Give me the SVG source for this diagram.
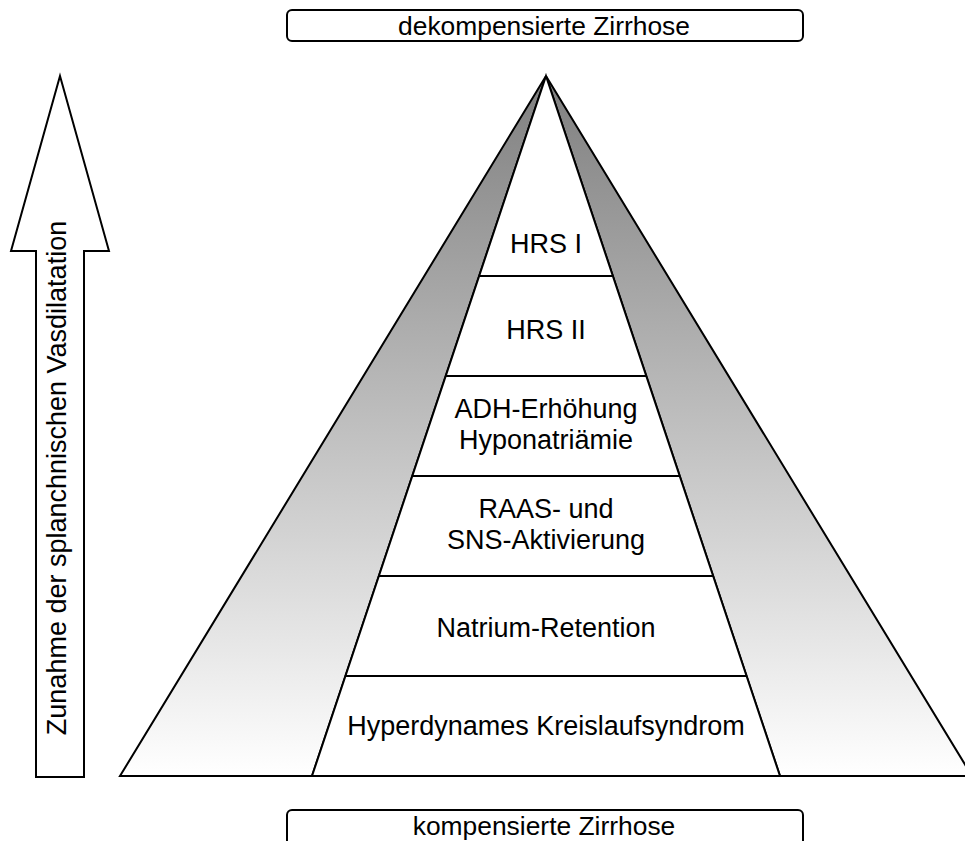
<svg xmlns="http://www.w3.org/2000/svg" width="965" height="841" viewBox="0 0 965 841">
  <defs>
    <linearGradient id="grad" gradientUnits="userSpaceOnUse" x1="0" y1="76" x2="0" y2="776">
      <stop offset="0" stop-color="#7f7f7f"/>
      <stop offset="1" stop-color="#ffffff"/>
    </linearGradient>
  </defs>
  <style>
    .ln { stroke: #000; stroke-width: 2; stroke-linejoin: miter; }
    .t { font-family: "Liberation Sans", Arial, sans-serif; font-size: 27px; fill: #000; text-anchor: middle; }
    .b { font-size: 26.4px; }
  </style>
  <rect x="0" y="0" width="965" height="841" fill="#fff"/>

  <g id="side-strips">
    <polygon class="ln" points="546,76 120,776 312,776" fill="url(#grad)"/>
    <polygon class="ln" points="546,76 972,776 780,776" fill="url(#grad)"/>
  </g>

  <g id="pyramid-core">
    <polygon class="ln" points="546,76 780,776 312,776" fill="#fff"/>
  </g>

  <g id="layer-hrs1">
    <text class="t" x="546" y="253">HRS I</text>
  </g>
  <g id="layer-hrs2">
    <line class="ln" x1="479" y1="276" x2="613" y2="276"/>
    <text class="t" x="546" y="339">HRS II</text>
  </g>
  <g id="layer-adh">
    <line class="ln" x1="446" y1="376" x2="646" y2="376"/>
    <text class="t" x="546" y="418">ADH-Erhöhung</text>
    <text class="t" x="546" y="449">Hyponatriämie</text>
  </g>
  <g id="layer-raas">
    <line class="ln" x1="413" y1="476" x2="679" y2="476"/>
    <text class="t" x="546" y="518">RAAS- und</text>
    <text class="t" x="546" y="549">SNS-Aktivierung</text>
  </g>
  <g id="layer-natrium">
    <line class="ln" x1="379" y1="576" x2="713" y2="576"/>
    <text class="t" x="546" y="637">Natrium-Retention</text>
  </g>
  <g id="layer-hyperdynam">
    <line class="ln" x1="346" y1="676" x2="746" y2="676"/>
    <text class="t" x="546" y="735">Hyperdynames Kreislaufsyndrom</text>
  </g>

  <g id="box-top">
    <rect class="ln" x="287" y="10" width="516" height="31" rx="5" fill="#fff"/>
    <text class="t b" x="544" y="35">dekompensierte Zirrhose</text>
  </g>
  <g id="box-bottom">
    <rect class="ln" x="287" y="810" width="516" height="40" rx="5" fill="#fff"/>
    <text class="t b" x="544" y="835">kompensierte Zirrhose</text>
  </g>

  <g id="connectors">
    <g id="arrow-vasodilatation">
      <polygon class="ln" points="60,76 109,251 84,251 84,777 36,777 36,251 11,251" fill="#fff"/>
      <text class="t" transform="translate(66,478) rotate(-90)">Zunahme der splanchnischen Vasdilatation</text>
    </g>
  </g>
</svg>
